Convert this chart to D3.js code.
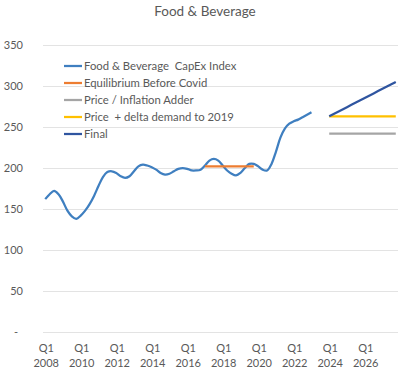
<!doctype html>
<html>
<head>
    <meta charset="UTF-8">
    <title>Food &amp; Beverage</title>
    <script src="https://cdn.jsdelivr.net/npm/d3@7"></script>
    <style>
        body { margin: 0; background: #fff; }
        text { font-family: Lato, "Open Sans", Arial, sans-serif; fill: #595959; }
        .title { font-size: 13.5px; text-anchor: middle; }
        .tick-label { font-size: 11px; }
        .legend { font-size: 11.3px; }
    </style>
</head>
<body>
<script>
    // quarters Q1 2008 .. Q4 2027
    var years = d3.range(2008, 2028);
    var quarters = [];
    years.forEach(function (y) {
        ["Q1", "Q2", "Q3", "Q4"].forEach(function (q) { quarters.push(q + " " + y); });
    });

    // Food & Beverage CapEx Index, Q1 2008 .. Q1 2023
    var indexValues = [162, 168, 172, 168, 159, 148, 141, 138, 142, 148,
                       156, 166, 178, 189, 195, 196, 194, 190, 188, 190,
                       196, 202, 204, 203, 201, 198, 194, 192, 193, 196,
                       199, 200, 199, 197, 197, 198, 203, 209, 211, 209,
                       203, 197, 193, 191, 194, 200, 205, 205, 202, 198,
                       197, 205, 220, 237, 248, 254, 257, 259, 262, 265,
                       268];
    var indexStart = "Q1 2008";

    // Equilibrium Before Covid, Q1 2017 .. Q4 2019
    var equilibrium = [202, 202, 202, 202, 202, 202, 202, 202, 202, 202, 202, 202];
    var equilibriumStart = "Q1 2017";

    // projections Q1 2024 .. Q4 2027
    var projStart = "Q1 2024";
    var inflationAdder = [242, 242, 242, 242, 242, 242, 242, 242, 242, 242, 242, 242, 242, 242, 242, 242];
    var deltaDemand = [263, 263, 263, 263, 263, 263, 263, 263, 263, 263, 263, 263, 263, 263, 263, 263];
    var finalValues = [263, 265.8, 268.6, 271.4, 274.2, 277, 279.8, 282.6,
                       285.4, 288.2, 291, 293.8, 296.6, 299.4, 302.2, 305];

    var yTicks = [0, 50, 100, 150, 200, 250, 300, 350];
    var xTickLabels = ["Q1 2008", "Q1 2010", "Q1 2012", "Q1 2014", "Q1 2016",
                       "Q1 2018", "Q1 2020", "Q1 2022", "Q1 2024", "Q1 2026"];

    var series = [
        { name: "Food & Beverage  CapEx Index", color: "#3f7fc0", start: indexStart, values: indexValues, smooth: true },
        { name: "Equilibrium Before Covid", color: "#ed7d31", start: equilibriumStart, values: equilibrium },
        { name: "Price / Inflation Adder", color: "#a5a5a5", start: projStart, values: inflationAdder },
        { name: "Price  + delta demand to 2019", color: "#ffc000", start: projStart, values: deltaDemand },
        { name: "Final", color: "#2f55a0", start: projStart, values: finalValues }
    ];

    var W = 400, H = 375;
    var svg = d3.select("body").append("svg")
        .attr("width", W)
        .attr("height", H);

    var x = d3.scaleBand()
        .domain(quarters)
        .range([43, 398]);

    var y = d3.scaleLinear()
        .domain([0, 350])
        .range([332, 45]);

    function cx(q) { return x(q) + x.bandwidth() / 2; }

    svg.append("text")
        .attr("class", "title")
        .attr("x", 205)
        .attr("y", 16)
        .text("Food & Beverage");

    // gridlines
    svg.selectAll(".grid")
        .data(yTicks)
        .enter()
        .append("line")
        .attr("x1", 43)
        .attr("x2", 398)
        .attr("y1", function (d) { return Math.round(y(d)) + 0.5; })
        .attr("y2", function (d) { return Math.round(y(d)) + 0.5; })
        .style("stroke", "#e3e3e3")
        .style("stroke-width", 1);

    svg.selectAll(".ylab")
        .data(yTicks)
        .enter()
        .append("text")
        .attr("class", "tick-label")
        .attr("x", function (d) { return d === 0 ? 18 : 23; })
        .attr("y", function (d) { return y(d) + 4; })
        .style("text-anchor", "end")
        .text(function (d) { return d === 0 ? "-" : d; });

    var xl = svg.selectAll(".xlab")
        .data(xTickLabels)
        .enter()
        .append("text")
        .attr("class", "tick-label")
        .style("text-anchor", "middle");
    xl.append("tspan")
        .attr("x", function (d) { return cx(d) + 1; })
        .attr("y", 352)
        .text(function (d) { return d.split(" ")[0]; });
    xl.append("tspan")
        .attr("x", function (d) { return cx(d) + 1; })
        .attr("y", 367)
        .text(function (d) { return d.split(" ")[1]; });

    series.forEach(function (s) {
        var i0 = quarters.indexOf(s.start);
        var pts = s.values.map(function (v, i) { return [cx(quarters[i0 + i]), y(v)]; });
        var line = d3.line()
            .curve(s.smooth ? d3.curveCatmullRom.alpha(0.5) : d3.curveLinear);
        svg.append("path")
            .attr("d", line(pts))
            .style("fill", "none")
            .style("stroke", s.color)
            .style("stroke-width", 2.25)
            .style("stroke-linejoin", "round");
    });

    // legend
    var lg = svg.selectAll(".lg")
        .data(series)
        .enter()
        .append("g")
        .attr("transform", function (d, i) { return "translate(64," + (66 + i * 17) + ")"; });
    lg.append("line")
        .attr("x1", 0)
        .attr("x2", 18)
        .style("stroke", function (d) { return d.color; })
        .style("stroke-width", 2.25);
    lg.append("text")
        .attr("class", "legend")
        .attr("x", 20)
        .attr("y", 4)
        .style("white-space", "pre")
        .text(function (d) { return d.name; });
</script>
</body>
</html>
